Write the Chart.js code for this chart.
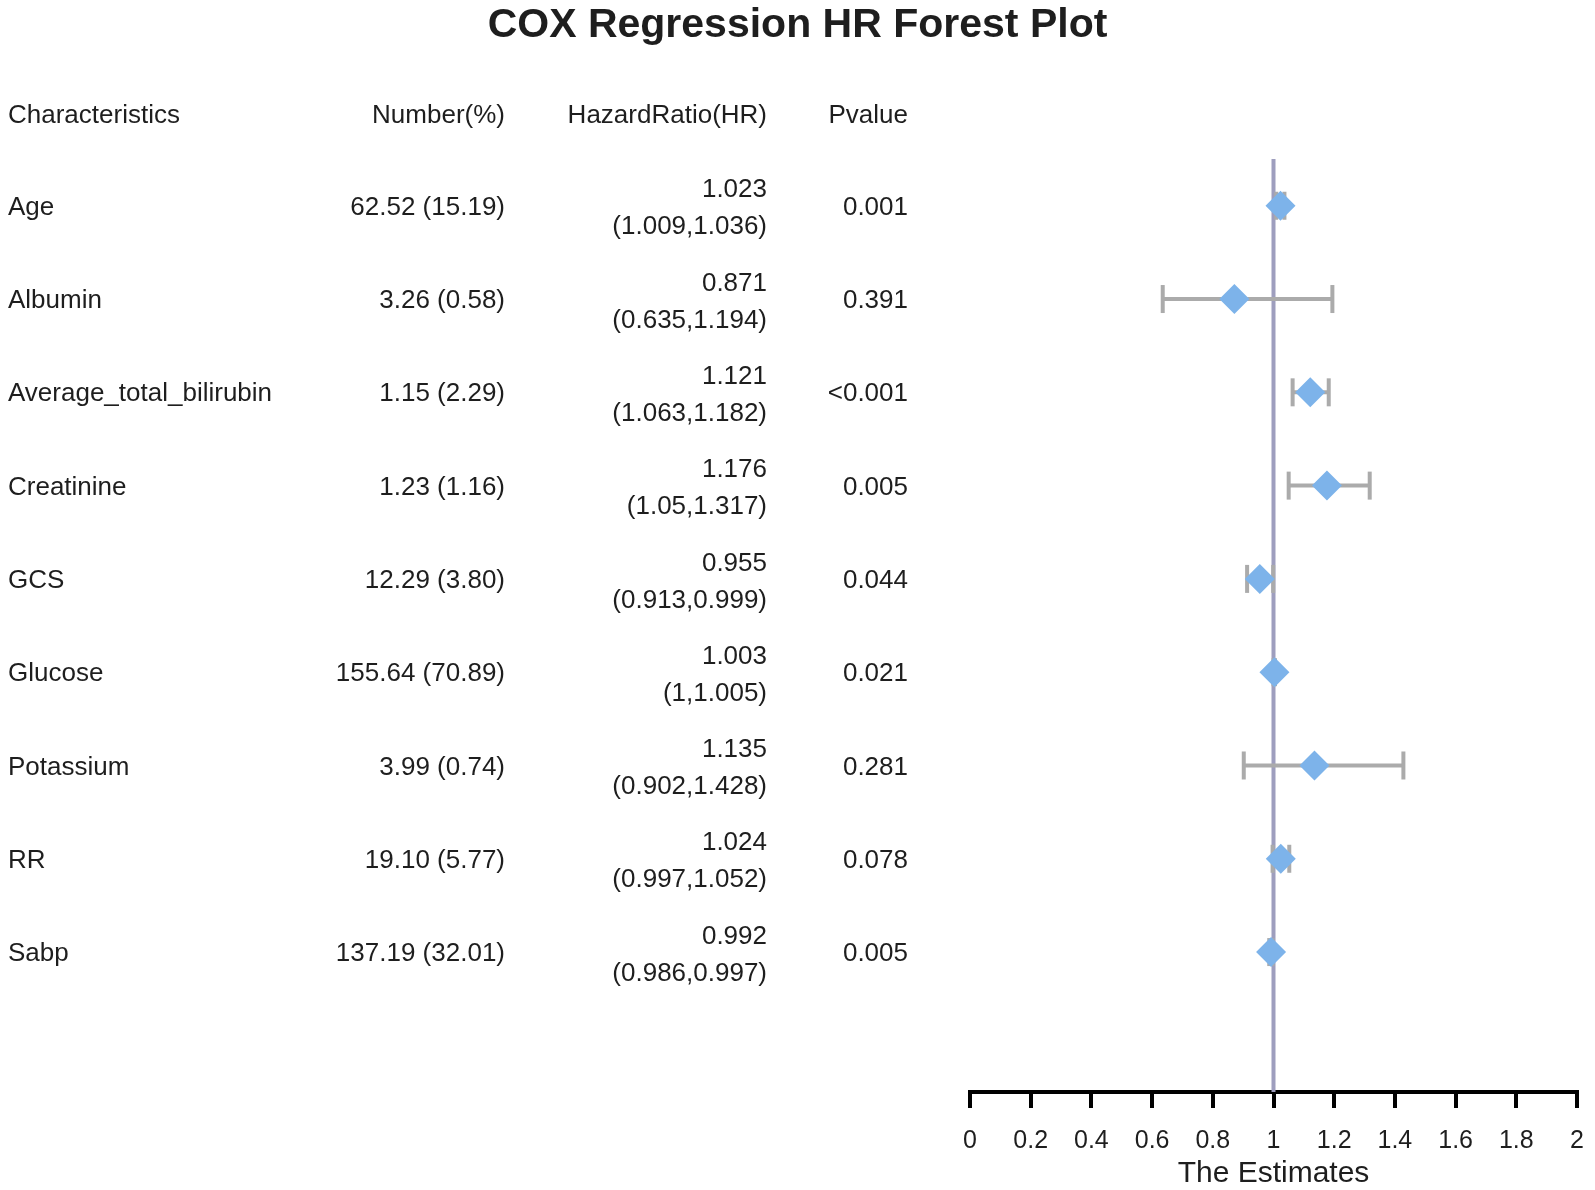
<!DOCTYPE html>
<html>
<head>
<meta charset="utf-8">
<script src="https://cdn.jsdelivr.net/npm/chart.js@4.4.0/dist/chart.umd.min.js"></script>
<style>
  html, body { margin: 0; padding: 0; background: #ffffff; }
  #wrap { width: 1595px; height: 1190px; position: relative; }
</style>
</head>
<body>
<div id="wrap"><canvas id="c"></canvas></div>
<script>
// ---- data ----
const characteristics = ['Age', 'Albumin', 'Average_total_bilirubin', 'Creatinine', 'GCS', 'Glucose', 'Potassium', 'RR', 'Sabp'];
const numberText = ['62.52 (15.19)', '3.26 (0.58)', '1.15 (2.29)', '1.23 (1.16)', '12.29 (3.80)', '155.64 (70.89)', '3.99 (0.74)', '19.10 (5.77)', '137.19 (32.01)'];
const hr = [1.023, 0.871, 1.121, 1.176, 0.955, 1.003, 1.135, 1.024, 0.992];
const ciLow = [1.009, 0.635, 1.063, 1.05, 0.913, 1, 0.902, 0.997, 0.986];
const ciHigh = [1.036, 1.194, 1.182, 1.317, 0.999, 1.005, 1.428, 1.052, 0.997];
const pValues = ['0.001', '0.391', '<0.001', '0.005', '0.044', '0.021', '0.281', '0.078', '0.005'];
const headers = ['Characteristics', 'Number(%)', 'HazardRatio(HR)', 'Pvalue'];
const tickLabels = ['0', '0.2', '0.4', '0.6', '0.8', '1', '1.2', '1.4', '1.6', '1.8', '2'];
const refValue = 1;
const titleText = 'COX Regression HR Forest Plot';
const xTitle = 'The Estimates';

// ---- style ----
const TEXT = '#1e1e1e';
const FONT = '"Liberation Sans", Arial, Helvetica, sans-serif';
const DIAMOND = '#7db3ea';
const BAR = '#ababab';
const REF = '#9e9ebe';
const Y_MIN = -0.5, Y_MAX = 9.5;

const datasets = [];
// reference line at HR = 1
datasets.push({
  type: 'line',
  data: [{ x: refValue, y: Y_MIN }, { x: refValue, y: Y_MAX }],
  borderColor: REF, borderWidth: 4, pointRadius: 0, order: 30, clip: false
});
// confidence interval bars with caps
characteristics.forEach((c, i) => {
  datasets.push({
    type: 'line',
    data: [{ x: ciLow[i], y: i }, { x: ciHigh[i], y: i }],
    borderColor: BAR, borderWidth: 4,
    pointStyle: 'line', rotation: 90, pointRadius: 14,
    pointBorderColor: BAR, pointBorderWidth: 4,
    order: 20, clip: false
  });
});
// HR diamonds
datasets.push({
  type: 'scatter',
  data: hr.map((v, i) => ({ x: v, y: i })),
  pointStyle: 'rectRot', pointRadius: 15,
  backgroundColor: DIAMOND, borderColor: DIAMOND, borderWidth: 0,
  order: 10, clip: false
});

const tablePlugin = {
  id: 'tablePlugin',
  afterDraw(chart) {
    const ctx = chart.ctx;
    const y = chart.scales.y;
    ctx.save();
    ctx.fillStyle = TEXT;
    ctx.font = '26px ' + FONT;
    ctx.textBaseline = 'middle';
    const colChar = 8, colNum = 505, colHr = 767, colP = 908;
    const hy = y.getPixelForValue(-1) + 3;
    ctx.textAlign = 'left';
    ctx.fillText(headers[0], colChar, hy);
    ctx.textAlign = 'right';
    ctx.fillText(headers[1], colNum, hy);
    ctx.fillText(headers[2], colHr, hy);
    ctx.fillText(headers[3], colP, hy);
    characteristics.forEach((c, i) => {
      const py = y.getPixelForValue(i) + 2;
      ctx.textAlign = 'left';
      ctx.fillText(c, colChar, py);
      ctx.textAlign = 'right';
      ctx.fillText(numberText[i], colNum, py);
      ctx.fillText(String(hr[i]), colHr, py - 17.5);
      ctx.fillText('(' + String(ciLow[i]) + ',' + String(ciHigh[i]) + ')', colHr, py + 19.5);
      ctx.fillText(pValues[i], colP, py);
    });
    ctx.restore();
  }
};

new Chart(document.getElementById('c'), {
  data: { datasets },
  options: {
    responsive: true,
    maintainAspectRatio: false,
    animation: false,
    devicePixelRatio: 1,
    layout: { padding: 0 },
    plugins: {
      legend: { display: false },
      tooltip: { enabled: false },
      title: {
        display: true,
        text: titleText,
        color: TEXT,
        font: { family: FONT, size: 41, weight: 'bold', lineHeight: 1.1 },
        padding: { top: 3, bottom: 111 }
      }
    },
    scales: {
      x: {
        type: 'linear',
        position: 'bottom',
        min: 0, max: 2,
        afterFit(scale) { scale.height = 98; scale.paddingRight = 0; scale.paddingLeft = 0; },
        afterBuildTicks(scale) { scale.ticks = tickLabels.map(t => ({ value: Number(t) })); },
        ticks: {
          autoSkip: false, maxRotation: 0,
          color: TEXT,
          font: { family: FONT, size: 25 },
          padding: 18,
          callback: (v, i) => tickLabels[i]
        },
        grid: { display: true, drawOnChartArea: false, drawTicks: true, tickLength: 16, color: '#000', lineWidth: 4 },
        border: { display: true, color: '#000', width: 4 },
        title: {
          display: true, text: xTitle, color: TEXT,
          font: { family: FONT, size: 30, lineHeight: 1.2 },
          padding: { top: 0, bottom: -2 }
        }
      },
      y: {
        type: 'linear',
        position: 'left',
        reverse: true,
        min: Y_MIN, max: Y_MAX,
        afterFit(scale) { scale.width = 970; },
        ticks: { display: false },
        grid: { display: false },
        border: { display: false }
      },
      y2: {
        type: 'linear',
        position: 'right',
        afterFit(scale) { scale.width = 8; },
        ticks: { display: false },
        grid: { display: false },
        border: { display: false }
      }
    }
  },
  plugins: [tablePlugin]
});
</script>
</body>
</html>
